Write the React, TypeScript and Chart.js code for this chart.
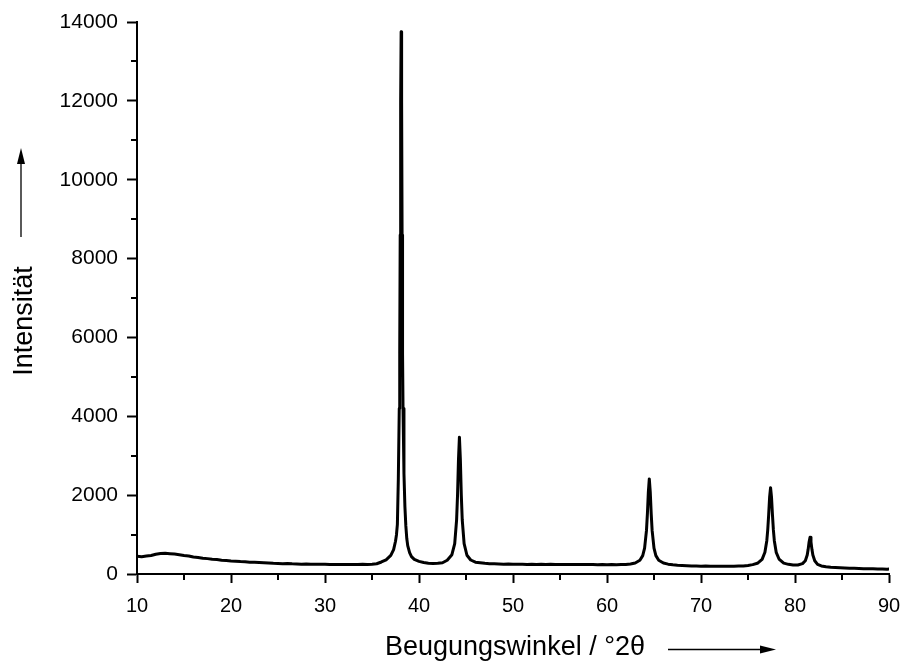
import React, { useEffect, useRef } from "react";
import { Chart, registerables } from "chart.js";

Chart.register(...registerables);

// Diffraction angle (°2θ)
const angles: number[] = [
  10.0, 10.5, 11.0, 11.5, 12.0, 12.5, 13.0, 13.5, 14.0, 14.5, 15.0, 15.5, 16.0, 16.5, 17.0, 17.5,
  18.0, 18.5, 19.0, 19.5, 20.0, 20.5, 21.0, 21.5, 22.0, 22.5, 23.0, 23.5, 24.0, 24.5, 25.0, 25.5,
  26.0, 26.5, 27.0, 27.5, 28.0, 28.5, 29.0, 29.5, 30.0, 30.5, 31.0, 31.5, 32.0, 32.5, 33.0, 33.5,
  34.0, 34.5, 35.0, 35.5, 36.0, 36.5, 37.0, 37.3, 37.5, 37.6, 37.7, 37.8, 37.9, 37.95, 38.0, 38.05,
  38.1, 38.15, 38.2, 38.25, 38.3, 38.4, 38.5, 38.6, 38.7, 38.8, 39.0, 39.2, 39.5, 40.0, 40.5, 41.0,
  41.5, 42.0, 42.5, 43.0, 43.5, 43.8, 44.0, 44.1, 44.2, 44.3, 44.4, 44.5, 44.6, 44.8, 45.1, 45.5,
  46.0, 46.5, 47.0, 47.5, 48.0, 48.5, 49.0, 49.5, 50.0, 50.5, 51.0, 51.5, 52.0, 52.5, 53.0, 53.5,
  54.0, 54.5, 55.0, 55.5, 56.0, 56.5, 57.0, 57.5, 58.0, 58.5, 59.0, 59.5, 60.0, 60.5, 61.0, 61.5,
  62.0, 62.5, 63.0, 63.5, 63.8, 64.0, 64.2, 64.3, 64.4, 64.5, 64.6, 64.7, 64.8, 65.0, 65.2, 65.5,
  66.0, 66.5, 67.0, 67.5, 68.0, 68.5, 69.0, 69.5, 70.0, 70.5, 71.0, 71.5, 72.0, 72.5, 73.0, 73.5,
  74.0, 74.5, 75.0, 75.5, 76.0, 76.5, 76.8, 77.0, 77.1, 77.2, 77.3, 77.4, 77.5, 77.6, 77.7, 77.8,
  78.0, 78.3, 78.8, 79.3, 79.8, 80.3, 80.8, 81.1, 81.3, 81.4, 81.5, 81.6, 81.7, 81.8, 81.9, 82.1,
  82.4, 82.8, 83.3, 83.8, 84.3, 84.8, 85.3, 85.8, 86.3, 86.8, 87.3, 87.8, 88.3, 88.8, 89.3, 89.8,
  90.0,
];

// Intensity (counts)
const intensities: number[] = [
  450, 440, 455, 470, 500, 520, 525, 515, 505, 490, 470, 455, 430, 420, 400, 390,
  375, 365, 350, 340, 330, 325, 315, 310, 300, 295, 290, 285, 280, 270, 268, 262,
  265, 258, 255, 250, 255, 248, 245, 247, 245, 240, 243, 238, 240, 242, 238, 240,
  245, 243, 250, 260, 305, 360, 470, 620, 830, 990, 1260, 2400, 4200, 5600, 8600, 12000,
  13750, 12000, 8600, 5600, 4200, 2550, 1710, 1220, 900, 720, 540, 440, 370, 320, 290, 275,
  265, 270, 285, 350, 490, 770, 1370, 2000, 2900, 3470, 2900, 2000, 1370, 770, 475, 355,
  300, 285, 270, 262, 258, 255, 250, 252, 248, 245, 247, 243, 245, 242, 246, 243,
  245, 241, 244, 240, 243, 239, 242, 240, 238, 241, 237, 240, 236, 239, 235, 238,
  240, 255, 280, 349, 466, 654, 1105, 1537, 2082, 2410, 2082, 1537, 1105, 654, 466, 349,
  280, 250, 232, 222, 215, 210, 205, 202, 198, 200, 196, 199, 195, 198, 194, 196,
  200, 205, 218, 238, 272, 372, 550, 846, 1117, 1506, 1951, 2190, 1951, 1506, 1117, 846,
  550, 380, 275, 245, 226, 228, 262, 335, 480, 625, 810, 930, 810, 625, 480, 335,
  245, 205, 185, 172, 165, 158, 152, 148, 144, 140, 136, 133, 130, 128, 125, 122,
  124,
];

const xTickValues: number[] = [10, 20, 30, 40, 50, 60, 70, 80, 90];
const xMinorTicks: number[] = [15, 25, 35, 45, 55, 65, 75, 85];
const yTickValues: number[] = [0, 2000, 4000, 6000, 8000, 10000, 12000, 14000];
const yMinorTicks: number[] = [1000, 3000, 5000, 7000, 9000, 11000, 13000];

const xTitle = "Beugungswinkel / °2θ";
const yTitle = "Intensität";

const FONT = "'Liberation Sans', Arial, sans-serif";

const decorPlugin = {
  id: "decor",
  afterDraw(chart: any) {
    const ctx = chart.ctx as CanvasRenderingContext2D;
    const xs = chart.scales.x;
    const ys = chart.scales.y;
    const area = chart.chartArea;
    ctx.save();
    ctx.strokeStyle = "#000";
    ctx.fillStyle = "#000";
    // minor ticks
    ctx.lineWidth = 2;
    ctx.beginPath();
    for (const v of yMinorTicks) {
      const py = Math.round(ys.getPixelForValue(v));
      ctx.moveTo(area.left - 6, py);
      ctx.lineTo(area.left, py);
    }
    for (const v of xMinorTicks) {
      const px = Math.round(xs.getPixelForValue(v));
      ctx.moveTo(px, area.bottom);
      ctx.lineTo(px, area.bottom + 6);
    }
    ctx.stroke();

    // x title + arrow
    ctx.font = `27px ${FONT}`;
    ctx.textAlign = "center";
    ctx.textBaseline = "alphabetic";
    ctx.fillText(xTitle, 515, 655);
    ctx.lineWidth = 1.3;
    ctx.beginPath();
    ctx.moveTo(668, 649.5);
    ctx.lineTo(762, 649.5);
    ctx.stroke();
    ctx.beginPath();
    ctx.moveTo(776, 649.5);
    ctx.lineTo(760, 645.5);
    ctx.lineTo(760, 653.5);
    ctx.closePath();
    ctx.fill();

    // y title + arrow
    ctx.save();
    ctx.translate(32, 321);
    ctx.rotate(-Math.PI / 2);
    ctx.fillText(yTitle, 0, 0);
    ctx.restore();
    ctx.beginPath();
    ctx.moveTo(21, 237);
    ctx.lineTo(21, 162);
    ctx.stroke();
    ctx.beginPath();
    ctx.moveTo(21, 148);
    ctx.lineTo(17, 164);
    ctx.lineTo(25, 164);
    ctx.closePath();
    ctx.fill();
    ctx.restore();
  },
};

export default function App() {
  const ref = useRef<HTMLCanvasElement | null>(null);
  useEffect(() => {
    if (!ref.current) return;
    const points = angles.map((a, i) => ({ x: a, y: intensities[i] }));
    const chart = new Chart(ref.current, {
      type: "line",
      data: {
        datasets: [
          {
            data: points,
            borderColor: "#000",
            borderWidth: 3,
            borderJoinStyle: "round",
            borderCapStyle: "round",
            pointRadius: 0,
            tension: 0,
            fill: false,
          },
        ],
      },
      options: {
        responsive: false,
        animation: false,
        devicePixelRatio: 1,
        layout: { padding: { top: 22, right: 13, left: 0, bottom: 0 } },
        plugins: {
          legend: { display: false },
          tooltip: { enabled: false },
          title: { display: false },
        },
        scales: {
          x: {
            type: "linear",
            min: 10,
            max: 90,
            afterFit(scale: any) {
              scale.height = 90;
              scale.paddingRight = 0;
              scale.paddingLeft = 0;
            },
            afterBuildTicks(scale: any) {
              scale.ticks = xTickValues.map((v) => ({ value: v }));
            },
            ticks: {
              color: "#000",
              font: { family: FONT, size: 20 },
              padding: 11,
              maxRotation: 0,
              autoSkip: false,
            },
            grid: {
              drawOnChartArea: false,
              drawTicks: true,
              tickLength: 9,
              tickWidth: 2,
              tickColor: "#000",
            },
            border: { display: true, color: "#000", width: 2 },
          },
          y: {
            type: "linear",
            min: 0,
            max: 14000,
            afterFit(scale: any) {
              scale.width = 137;
              scale.paddingTop = 0;
              scale.paddingBottom = 0;
            },
            afterBuildTicks(scale: any) {
              scale.ticks = yTickValues.map((v) => ({ value: v }));
            },
            ticks: {
              color: "#000",
              font: { family: FONT, size: 21 },
              padding: 9,
              autoSkip: false,
              callback: (v: any) => String(v),
            },
            grid: {
              drawOnChartArea: false,
              drawTicks: true,
              tickLength: 10,
              tickWidth: 2,
              tickColor: "#000",
            },
            border: { display: true, color: "#000", width: 2 },
          },
        },
      },
      plugins: [decorPlugin],
    });
    return () => chart.destroy();
  }, []);
  return (
    <div style={{ position: "absolute", left: 0, top: 0, width: 902, height: 664, background: "#fff" }}>
      <canvas ref={ref} width={902} height={664} />
    </div>
  );
}
